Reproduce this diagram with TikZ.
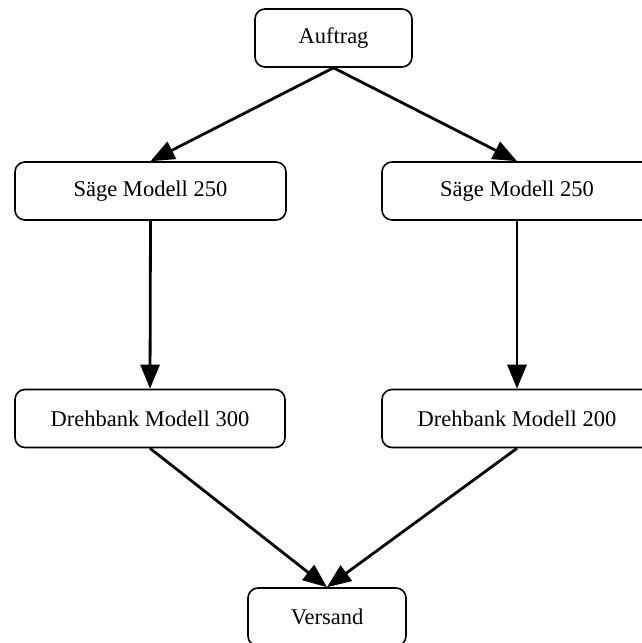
\documentclass[tikz,border=0pt]{standalone}
\usepackage{fontspec}
\setmainfont{Liberation Serif}
\usetikzlibrary{arrows.meta}
\begin{document}
\begin{tikzpicture}[x=1pt,y=-1pt,
  box/.style={draw=black, line width=1.6pt, rounded corners=10pt, fill=white,
    minimum height=58pt, inner sep=0pt, font=\fontsize{22.5}{26}\selectfont},
  arr/.style={draw=black, line width=2.8pt,
    -{Triangle[length=24pt,width=19pt]}}
]
\clip (0,0) rectangle (642,643);
\fill[white] (0,0) rectangle (642,643);
\node[box, minimum width=157pt] (auftrag) at (333.5,38) {Auftrag};
\node[box, minimum width=271pt] (sl) at (150.5,191) {Säge Modell 250};
\node[box, minimum width=270pt] (sr) at (517,191) {Säge Modell 250};
\node[box, minimum width=270pt] (dl) at (150,418.5) {Drehbank Modell 300};
\node[box, minimum width=270pt] (dr) at (517,418.5) {Drehbank Modell 200};
\node[box, minimum width=158pt] (versand) at (327,617) {Versand};
\draw[arr] (auftrag.south) -- (sl.north);
\draw[arr] (auftrag.south) -- (sr.north);
\draw[arr] (sl.south) -- (dl.north);
\draw[arr] (sr.south) -- (dr.north);
\draw[arr] (dl.south) -- (versand.north);
\draw[arr] (dr.south) -- (versand.north);
\end{tikzpicture}
\end{document}
